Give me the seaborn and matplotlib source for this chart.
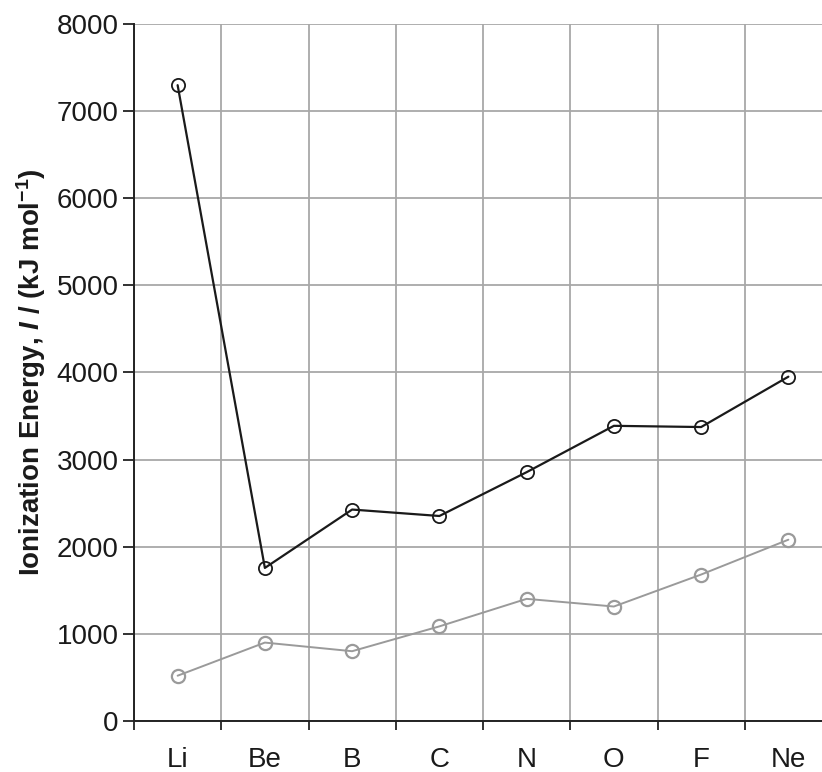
import matplotlib
matplotlib.use("Agg")
import matplotlib.pyplot as plt
import seaborn as sns
import pandas as pd
import numpy as np

elements = ["Li", "Be", "B", "C", "N", "O", "F", "Ne"]
second_ie = [7298, 1757, 2427, 2353, 2856, 3388, 3374, 3952]
first_ie = [520, 900, 801, 1086, 1402, 1314, 1681, 2081]
y_ticks = [0, 1000, 2000, 3000, 4000, 5000, 6000, 7000, 8000]

sns.set_style("white")
plt.rcParams['font.family'] = ['Liberation Sans', 'DejaVu Sans']
plt.rcParams['mathtext.fontset'] = 'custom'
plt.rcParams['mathtext.rm'] = 'Liberation Sans:bold'
plt.rcParams['mathtext.bf'] = 'Liberation Sans:bold'
plt.rcParams['mathtext.it'] = 'Liberation Sans:bold:italic'
plt.rcParams['mathtext.bfit'] = 'Liberation Sans:bold:italic'

df = pd.DataFrame({"element": elements, "second": second_ie, "first": first_ie})

fig = plt.figure(figsize=(8.22, 7.72), dpi=100)
ax = fig.add_axes([134/822, 51/772, 698/822, 697/772])

sns.lineplot(data=df, x="element", y="second", ax=ax, color="#1a1a1a", linewidth=1.6,
             marker="o", markersize=9.5, markerfacecolor="none", markeredgecolor="#1a1a1a",
             markeredgewidth=1.3, sort=False)
sns.lineplot(data=df, x="element", y="first", ax=ax, color="#9a9a9a", linewidth=1.4,
             marker="o", markersize=9.5, markerfacecolor="none", markeredgecolor="#9a9a9a",
             markeredgewidth=1.6, sort=False)

ax.set_xlim(-0.5, len(elements) - 0.5)
ax.set_ylim(0, 8000)
ax.set_yticks(y_ticks)
ax.set_yticklabels([str(v) for v in y_ticks])
ax.set_xticks(range(len(elements)))
ax.set_xticklabels(elements)
ax.set_xticks(np.arange(-0.5, len(elements), 1.0), minor=True)

ax.tick_params(axis="y", which="major", length=8, width=1.3, color="#222222",
               labelsize=20, labelcolor="#1a1a1a", pad=3, direction="out", left=True)
ax.tick_params(axis="x", which="major", length=0, labelsize=20, labelcolor="#1a1a1a", pad=19)
ax.tick_params(axis="x", which="minor", length=6.5, width=1.3, color="#222222",
               direction="out", bottom=True)

ax.grid(False)
ax.yaxis.grid(True, which="major", color="#a8a8a8", linewidth=1.3)
ax.xaxis.grid(True, which="minor", color="#a8a8a8", linewidth=1.3)

for s in ["top", "right"]:
    ax.spines[s].set_visible(False)
for s in ["left", "bottom"]:
    ax.spines[s].set_color("#222222")
    ax.spines[s].set_linewidth(1.4)

ax.set_xlabel("")
ax.set_ylabel(r"Ionization Energy, $\mathbfit{I}$ / (kJ mol$^{\mathbf{-1}}$)",
              fontsize=20, fontweight="bold", color="#1a1a1a", labelpad=6)

fig.savefig("out.png", dpi=100)
